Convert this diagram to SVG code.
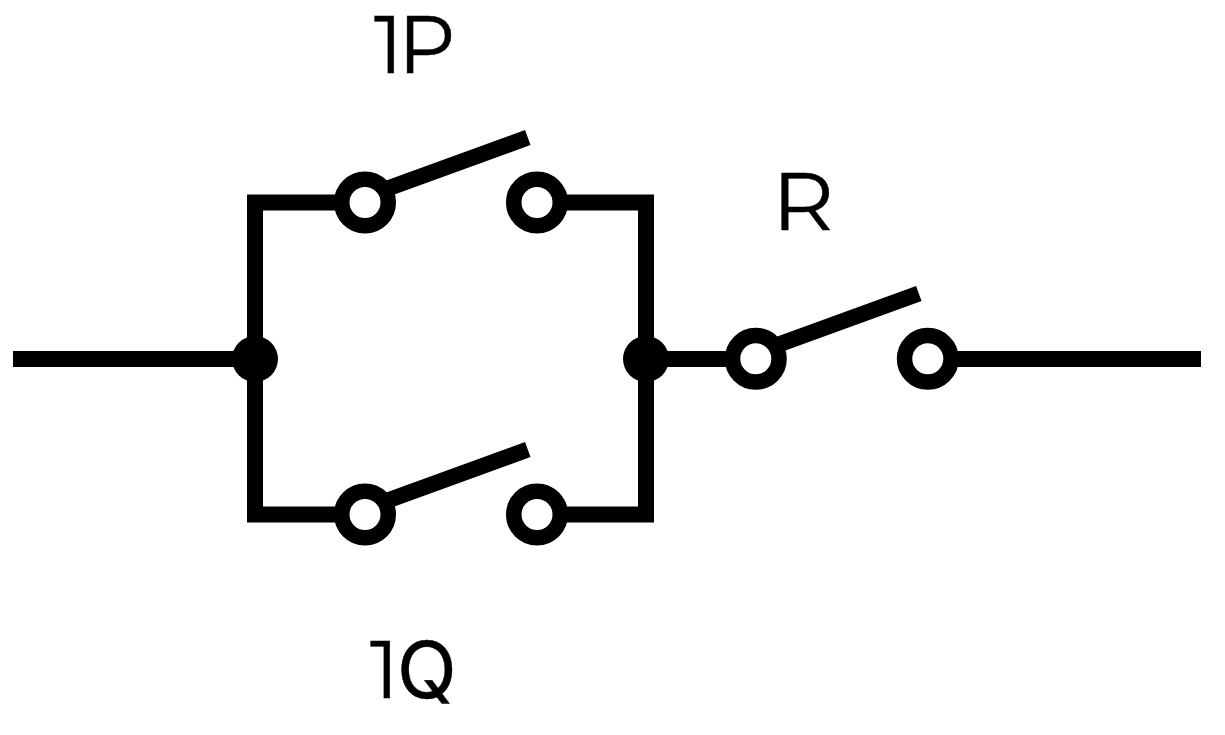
<svg xmlns="http://www.w3.org/2000/svg" width="1225" height="735" viewBox="0 0 1225 735">
<style>
.w{fill:none;stroke:#000;stroke-width:16;stroke-linecap:butt;stroke-linejoin:miter}
.t{fill:#fff;stroke:#000;stroke-width:15.5}
.d{fill:#000}
.l{font-family:"Montserrat","Inter","Liberation Sans",sans-serif;font-size:80px;fill:#000;stroke:#000;stroke-width:.5}
.q{font-family:"Inter","Liberation Sans",sans-serif;font-size:78px}
</style>
<rect width="1225" height="735" fill="#fff"/>
<g id="connectors">
<path class="w" d="M13 359H255"/>
<path class="w" d="M365 202.500H255V514.500H365"/>
<path class="w" d="M537 202.500H646V514.500H537"/>
<path class="w" d="M646 359H756"/>
<path class="w" d="M928 359H1201"/>
<path class="w" d="M378 192L527.800 137.500"/>
<path class="w" d="M378 504L527.800 449.500"/>
<path class="w" d="M769 348L918.800 293.500"/>
</g>
<g id="junction-left"><circle class="d" cx="255" cy="359" r="23"/></g>
<g id="junction-right"><circle class="d" cx="646" cy="359" r="23"/></g>
<g id="switch-1P-a"><circle class="t" cx="365" cy="202.500" r="23.250"/></g>
<g id="switch-1P-b"><circle class="t" cx="537" cy="202.500" r="23.250"/></g>
<g id="switch-1Q-a"><circle class="t" cx="365" cy="514.500" r="23.250"/></g>
<g id="switch-1Q-b"><circle class="t" cx="537" cy="514.500" r="23.250"/></g>
<g id="switch-R-a"><circle class="t" cx="755.800" cy="358.800" r="23.250"/></g>
<g id="switch-R-b"><circle class="t" cx="927.800" cy="358.800" r="23.250"/></g>
<text class="l" x="374 398" y="73">1P</text>
<text class="l" x="370" y="698">1<tspan class="q" x="397">Q</tspan></text>
<text class="l" x="772" y="230" textLength="62" lengthAdjust="spacingAndGlyphs">R</text>
</svg>
